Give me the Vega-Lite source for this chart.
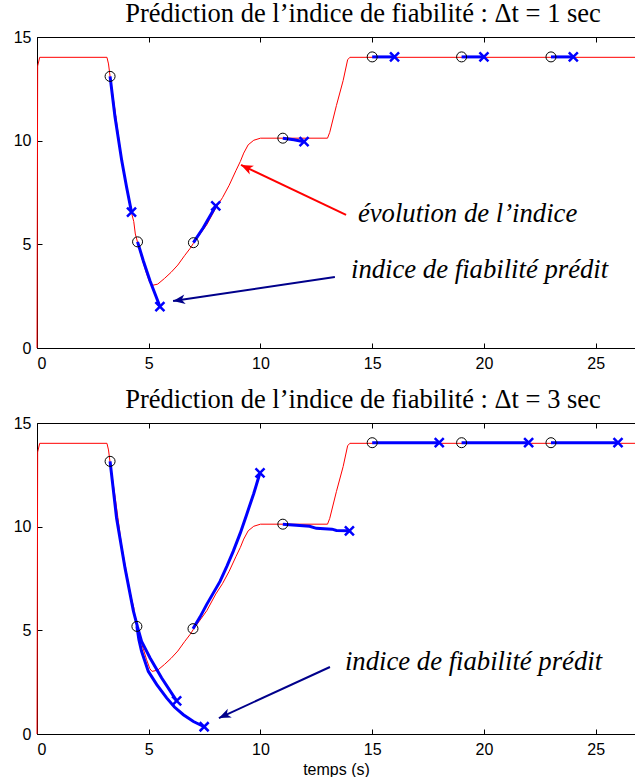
{
  "$schema": "https://vega.github.io/schema/vega-lite/v6.json",
  "background": "white",
  "padding": {"left": 13, "top": 0, "right": 0, "bottom": 0},
  "spacing": 15,
  "config": {
    "view": {"stroke": null},
    "axis": {"domainColor": "#000", "domainWidth": 1, "tickColor": "#000", "tickSize": -5, "tickWidth": 1, "labelColor": "#000", "labelFont": "Liberation Sans", "labelFontSize": 16, "titleFont": "Liberation Sans", "titleFontSize": 16, "titleFontWeight": "normal", "titleColor": "#000", "grid": false, "labelPadding": 12},
    "axisY": {"labelPadding": 11},
    "title": {"font": "Liberation Serif", "fontSize": 26.5, "fontWeight": "normal", "color": "#000", "anchor": "middle", "dx": 27, "baseline": "alphabetic", "offset": 2}
  },
  "datasets": {
    "reel": [
      {"t": 0, "v": 0}, {"t": 0.03, "v": 13.6}, {"t": 0.12, "v": 14.02}, {"t": 3.13, "v": 14.02}, {"t": 3.2, "v": 13.7}, {"t": 3.27, "v": 13.1},
      {"t": 3.5, "v": 11.4}, {"t": 3.79, "v": 9.05}, {"t": 4.0, "v": 7.8}, {"t": 4.21, "v": 6.6}, {"t": 4.33, "v": 6.1}, {"t": 4.4, "v": 5.5},
      {"t": 4.5, "v": 5.1}, {"t": 4.7, "v": 4.3}, {"t": 4.9, "v": 3.6}, {"t": 5.05, "v": 3.15}, {"t": 5.15, "v": 3.02}, {"t": 5.4, "v": 3.08},
      {"t": 5.7, "v": 3.35}, {"t": 6.0, "v": 3.65}, {"t": 6.3, "v": 4.0}, {"t": 6.6, "v": 4.45}, {"t": 6.85, "v": 4.8}, {"t": 7.0, "v": 5.05},
      {"t": 7.3, "v": 5.5}, {"t": 7.6, "v": 5.95}, {"t": 8.0, "v": 6.75}, {"t": 8.3, "v": 7.25}, {"t": 8.6, "v": 7.85}, {"t": 8.9, "v": 8.55},
      {"t": 9.1, "v": 9.0}, {"t": 9.25, "v": 9.4}, {"t": 9.45, "v": 9.8}, {"t": 9.7, "v": 10.02}, {"t": 10.0, "v": 10.12}, {"t": 13.0, "v": 10.12},
      {"t": 13.1, "v": 10.4}, {"t": 13.4, "v": 11.7}, {"t": 13.7, "v": 12.9}, {"t": 13.9, "v": 13.9}, {"t": 14.0, "v": 14.02}, {"t": 26.76, "v": 14.02}
    ],
    "pred1": [
      {"seg": 1, "t": 3.27, "v": 13.1, "pos": "début"}, {"seg": 1, "t": 3.49, "v": 11.15, "pos": "milieu"}, {"seg": 1, "t": 3.79, "v": 9.05, "pos": "milieu"}, {"seg": 1, "t": 4.01, "v": 7.75, "pos": "milieu"}, {"seg": 1, "t": 4.23, "v": 6.55, "pos": "fin"},
      {"seg": 2, "t": 4.5, "v": 5.12, "pos": "début"}, {"seg": 2, "t": 4.76, "v": 4.2, "pos": "milieu"}, {"seg": 2, "t": 5.06, "v": 3.23, "pos": "milieu"}, {"seg": 2, "t": 5.5, "v": 2.0, "pos": "fin"},
      {"seg": 3, "t": 7.0, "v": 5.08, "pos": "début"}, {"seg": 3, "t": 7.44, "v": 5.8, "pos": "milieu"}, {"seg": 3, "t": 8.0, "v": 6.85, "pos": "fin"},
      {"seg": 4, "t": 11.0, "v": 10.12, "pos": "début"}, {"seg": 4, "t": 11.5, "v": 10.04, "pos": "milieu"}, {"seg": 4, "t": 11.95, "v": 9.95, "pos": "fin"},
      {"seg": 5, "t": 15, "v": 14.04, "pos": "début"}, {"seg": 5, "t": 16, "v": 14.04, "pos": "fin"},
      {"seg": 6, "t": 19, "v": 14.04, "pos": "début"}, {"seg": 6, "t": 20, "v": 14.04, "pos": "fin"},
      {"seg": 7, "t": 23, "v": 14.04, "pos": "début"}, {"seg": 7, "t": 24, "v": 14.04, "pos": "fin"}
    ],
    "pred3": [
      {"seg": 1, "t": 3.27, "v": 13.15, "pos": "début"}, {"seg": 1, "t": 3.56, "v": 10.42, "pos": "milieu"}, {"seg": 1, "t": 3.94, "v": 8.0, "pos": "milieu"}, {"seg": 1, "t": 4.31, "v": 5.95, "pos": "milieu"}, {"seg": 1, "t": 4.5, "v": 5.15, "pos": "milieu"}, {"seg": 1, "t": 4.68, "v": 4.47, "pos": "milieu"}, {"seg": 1, "t": 5.06, "v": 3.67, "pos": "milieu"}, {"seg": 1, "t": 5.58, "v": 2.7, "pos": "milieu"}, {"seg": 1, "t": 6.25, "v": 1.6, "pos": "fin"},
      {"seg": 2, "t": 4.47, "v": 5.19, "pos": "début"}, {"seg": 2, "t": 4.56, "v": 4.55, "pos": "milieu"}, {"seg": 2, "t": 4.68, "v": 3.99, "pos": "milieu"}, {"seg": 2, "t": 4.98, "v": 3.02, "pos": "milieu"}, {"seg": 2, "t": 5.36, "v": 2.38, "pos": "milieu"}, {"seg": 2, "t": 5.8, "v": 1.74, "pos": "milieu"}, {"seg": 2, "t": 6.15, "v": 1.3, "pos": "milieu"}, {"seg": 2, "t": 6.55, "v": 0.93, "pos": "milieu"}, {"seg": 2, "t": 7.0, "v": 0.6, "pos": "milieu"}, {"seg": 2, "t": 7.48, "v": 0.35, "pos": "fin"},
      {"seg": 3, "t": 6.98, "v": 5.08, "pos": "début"}, {"seg": 3, "t": 7.3, "v": 5.65, "pos": "milieu"}, {"seg": 3, "t": 7.59, "v": 6.24, "pos": "milieu"}, {"seg": 3, "t": 8.19, "v": 7.36, "pos": "milieu"}, {"seg": 3, "t": 8.5, "v": 8.1, "pos": "milieu"}, {"seg": 3, "t": 8.78, "v": 8.81, "pos": "milieu"}, {"seg": 3, "t": 9.1, "v": 9.7, "pos": "milieu"}, {"seg": 3, "t": 9.38, "v": 10.58, "pos": "milieu"}, {"seg": 3, "t": 9.7, "v": 11.6, "pos": "milieu"}, {"seg": 3, "t": 9.98, "v": 12.6, "pos": "fin"},
      {"seg": 4, "t": 11.0, "v": 10.12, "pos": "début"}, {"seg": 4, "t": 12.2, "v": 10.02, "pos": "milieu"}, {"seg": 4, "t": 12.5, "v": 9.92, "pos": "milieu"}, {"seg": 4, "t": 13.2, "v": 9.88, "pos": "milieu"}, {"seg": 4, "t": 13.4, "v": 9.82, "pos": "milieu"}, {"seg": 4, "t": 13.98, "v": 9.8, "pos": "fin"},
      {"seg": 5, "t": 15, "v": 14.05, "pos": "début"}, {"seg": 5, "t": 18, "v": 14.05, "pos": "fin"},
      {"seg": 6, "t": 19, "v": 14.05, "pos": "début"}, {"seg": 6, "t": 22, "v": 14.05, "pos": "fin"},
      {"seg": 7, "t": 23, "v": 14.05, "pos": "début"}, {"seg": 7, "t": 26, "v": 14.05, "pos": "fin"}
    ],
    "fleches": [
      {"panel": 1, "id": "a", "type": "évolution", "t": 13.83, "v": 6.42, "bout": "queue"},
      {"panel": 1, "id": "a", "type": "évolution", "t": 9.13, "v": 8.83, "bout": "pointe"},
      {"panel": 1, "id": "b", "type": "prédit", "t": 13.33, "v": 3.42, "bout": "queue"},
      {"panel": 1, "id": "b", "type": "prédit", "t": 6.09, "v": 2.27, "bout": "pointe"},
      {"panel": 3, "id": "c", "type": "prédit", "t": 13.11, "v": 3.23, "bout": "queue"},
      {"panel": 3, "id": "c", "type": "prédit", "t": 8.14, "v": 0.77, "bout": "pointe"}
    ],
    "notes": [
      {"panel": 1, "t": 14.36, "v": 6.09, "label": "évolution de l’indice"},
      {"panel": 1, "t": 14.05, "v": 3.39, "label": "indice de fiabilité prédit"},
      {"panel": 3, "t": 13.78, "v": 3.1, "label": "indice de fiabilité prédit"}
    ]
  },
  "vconcat": [
    {
      "width": 598, "height": 311,
      "title": {"text": "Prédiction de l’indice de fiabilité : Δt = 1 sec"},
      "resolve": {"axis": {"x": "independent"}},
      "encoding": {
        "x": {"field": "t", "type": "quantitative", "axis": null},
        "y": {"field": "v", "type": "quantitative", "scale": {"domain": [0, 15], "nice": false}, "axis": {"values": [0, 5, 10, 15], "title": null}}
      },
      "layer": [
        {
          "data": {"name": "reel"},
          "mark": {"type": "line", "color": "#ff0000", "strokeWidth": 1},
          "encoding": {
            "x": {"field": "t", "type": "quantitative", "scale": {"domain": [0, 26.76], "nice": false, "zero": false}, "axis": {"orient": "bottom", "values": [0, 5, 10, 15, 20, 25], "title": null}}
          }
        },
        {
          "data": {"name": "pred1"},
          "mark": {"type": "line", "color": "#0000ff", "strokeWidth": 3},
          "encoding": {
            "x": {"field": "t", "type": "quantitative", "axis": {"orient": "top", "values": [0, 5, 10, 15, 20, 25], "labels": false, "title": null}},
            "detail": {"field": "seg"}
          }
        },
        {
          "data": {"name": "pred1"},
          "transform": [{"filter": "datum.pos === 'début'"}],
          "mark": {"type": "point", "shape": "circle", "filled": false, "color": "#000", "strokeWidth": 1, "size": 100, "opacity": 1}
        },
        {
          "data": {"name": "pred1"},
          "transform": [{"filter": "datum.pos === 'fin'"}],
          "mark": {"type": "point", "shape": "M-1,-1L1,1M-1,1L1,-1", "filled": false, "color": "#0000ff", "strokeWidth": 2.5, "size": 81, "opacity": 1}
        },
        {
          "data": {"name": "fleches"},
          "transform": [{"filter": "datum.panel === 1"}],
          "mark": {"type": "line", "strokeWidth": 2},
          "encoding": {
            "detail": {"field": "id"},
            "color": {"field": "type", "type": "nominal", "scale": {"domain": ["évolution", "prédit"], "range": ["#ff0000", "#00008b"]}, "legend": null}
          }
        },
        {
          "data": {"name": "fleches"},
          "transform": [{"filter": "datum.id === 'a' && datum.bout === 'pointe'"}],
          "mark": {"type": "point", "shape": "M0,0L0.8,2L0,1.45L-0.8,2Z", "filled": true, "color": "#ff0000", "size": 144, "angle": 295.5, "opacity": 1}
        },
        {
          "data": {"name": "fleches"},
          "transform": [{"filter": "datum.id === 'b' && datum.bout === 'pointe'"}],
          "mark": {"type": "point", "shape": "M0,0L0.8,2L0,1.45L-0.8,2Z", "filled": true, "color": "#00008b", "size": 144, "angle": 261.6, "opacity": 1}
        },
        {
          "data": {"name": "notes"},
          "transform": [{"filter": "datum.panel === 1"}],
          "mark": {"type": "text", "font": "Liberation Serif", "fontStyle": "italic", "fontSize": 26.7, "align": "left", "baseline": "alphabetic", "color": "#000"},
          "encoding": {"text": {"field": "label"}}
        }
      ]
    },
    {
      "width": 598, "height": 311,
      "title": {"text": "Prédiction de l’indice de fiabilité : Δt = 3 sec"},
      "resolve": {"axis": {"x": "independent"}},
      "encoding": {
        "x": {"field": "t", "type": "quantitative", "axis": null},
        "y": {"field": "v", "type": "quantitative", "scale": {"domain": [0, 15], "nice": false}, "axis": {"values": [0, 5, 10, 15], "title": null}}
      },
      "layer": [
        {
          "data": {"name": "reel"},
          "mark": {"type": "line", "color": "#ff0000", "strokeWidth": 1},
          "encoding": {
            "x": {"field": "t", "type": "quantitative", "scale": {"domain": [0, 26.76], "nice": false, "zero": false}, "axis": {"orient": "bottom", "values": [0, 5, 10, 15, 20, 25], "title": "temps (s)", "titlePadding": 4}}
          }
        },
        {
          "data": {"name": "pred3"},
          "mark": {"type": "line", "color": "#0000ff", "strokeWidth": 3},
          "encoding": {
            "x": {"field": "t", "type": "quantitative", "axis": {"orient": "top", "values": [0, 5, 10, 15, 20, 25], "labels": false, "title": null}},
            "detail": {"field": "seg"}
          }
        },
        {
          "data": {"name": "pred3"},
          "transform": [{"filter": "datum.pos === 'début'"}],
          "mark": {"type": "point", "shape": "circle", "filled": false, "color": "#000", "strokeWidth": 1, "size": 100, "opacity": 1}
        },
        {
          "data": {"name": "pred3"},
          "transform": [{"filter": "datum.pos === 'fin'"}],
          "mark": {"type": "point", "shape": "M-1,-1L1,1M-1,1L1,-1", "filled": false, "color": "#0000ff", "strokeWidth": 2.5, "size": 81, "opacity": 1}
        },
        {
          "data": {"name": "fleches"},
          "transform": [{"filter": "datum.panel === 3"}],
          "mark": {"type": "line", "strokeWidth": 2, "color": "#00008b"},
          "encoding": {"detail": {"field": "id"}}
        },
        {
          "data": {"name": "fleches"},
          "transform": [{"filter": "datum.id === 'c' && datum.bout === 'pointe'"}],
          "mark": {"type": "point", "shape": "M0,0L0.8,2L0,1.45L-0.8,2Z", "filled": true, "color": "#00008b", "size": 144, "angle": 245.3, "opacity": 1}
        },
        {
          "data": {"name": "notes"},
          "transform": [{"filter": "datum.panel === 3"}],
          "mark": {"type": "text", "font": "Liberation Serif", "fontStyle": "italic", "fontSize": 26.7, "align": "left", "baseline": "alphabetic", "color": "#000"},
          "encoding": {"text": {"field": "label"}}
        }
      ]
    }
  ]
}
